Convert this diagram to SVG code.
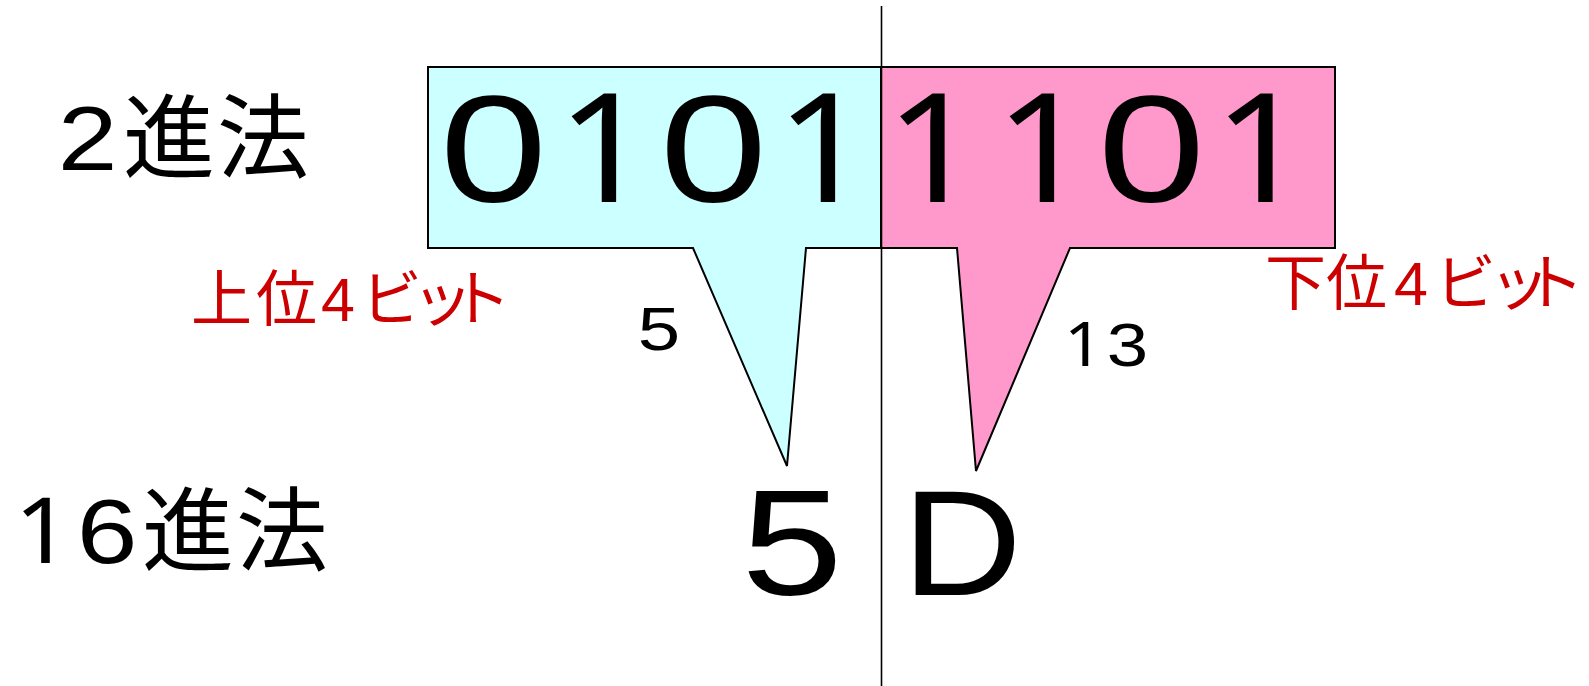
<svg xmlns="http://www.w3.org/2000/svg" width="1589" height="686" viewBox="0 0 1589 686">
<style>
.box{stroke:#000;stroke-width:2;stroke-linejoin:miter}
.upper{fill:#CCFFFF}
.lower{fill:#FF99CC}
.t{font-family:"Liberation Sans","Noto Sans CJK JP",sans-serif;fill:#000}
.one{font-family:"Noto Sans","Liberation Sans",sans-serif;fill:#000}
.big{font-size:152px}
.hex{font-size:151px}
.small{font-size:62px}
.head{font-size:91px}
.kanji{font-family:"Noto Sans CJK JP",sans-serif;font-size:92px;fill:#000}
.red{font-family:"Liberation Sans","Noto Sans CJK JP",sans-serif;font-size:61px;fill:#CC0000}
</style>
<rect width="1589" height="686" fill="#fff"/>
<g id="upper-callout">
<polygon class="box upper" points="428,67 881,67 881,248 806,248 787,466 693,248 428,248"/>
<text class="t big" text-anchor="middle" transform="translate(493.5,202) scale(1.27,1)">0</text>
<text class="one big" text-anchor="middle" transform="translate(604.5,202) scale(1.1,1)">1</text>
<text class="t big" text-anchor="middle" transform="translate(713.5,202) scale(1.27,1)">0</text>
<text class="one big" text-anchor="middle" transform="translate(823.5,202) scale(1.1,1)">1</text>
</g>
<g id="lower-callout">
<polygon class="box lower" points="881,67 1335,67 1335,248 1070,248 976,471 957,248 881,248"/>
<text class="one big" text-anchor="middle" transform="translate(933,202) scale(1.1,1)">1</text>
<text class="one big" text-anchor="middle" transform="translate(1042.5,202) scale(1.1,1)">1</text>
<text class="t big" text-anchor="middle" transform="translate(1151.5,202) scale(1.27,1)">0</text>
<text class="one big" text-anchor="middle" transform="translate(1261,202) scale(1.1,1)">1</text>
</g>
<g id="divider">
<line x1="881.5" y1="6" x2="881.5" y2="686" stroke="#000" stroke-width="1.6"/>
</g>
<g id="connectors"></g>
<g id="binary-label">
<text class="t head" text-anchor="middle" transform="translate(87.5,170) scale(1.18,1)">2</text>
<text class="kanji" x="123 217" y="171">進法</text>
</g>
<g id="hex-label">
<text class="one head" text-anchor="middle" transform="translate(43,563) scale(1.1,1)">1</text>
<text class="t head" text-anchor="middle" transform="translate(107,563) scale(1.2,1)">6</text>
<text class="kanji" x="142 236" y="564">進法</text>
</g>
<g id="upper-label">
<text class="red" x="191 256 321 361 412 450" y="321">上位4ビット</text>
</g>
<g id="lower-label">
<text class="red" x="1265 1326 1394 1435 1489 1523" y="305">下位4ビット</text>
</g>
<g id="value-5">
<text class="t" font-size="61" text-anchor="middle" transform="translate(659,350) scale(1.25,1)">5</text>
</g>
<g id="value-13">
<text class="one small" text-anchor="middle" transform="translate(1083.5,366) scale(1.1,1)">1</text>
<text class="t small" text-anchor="middle" transform="translate(1127.5,366) scale(1.2,1)">3</text>
</g>
<g id="hex-5">
<text class="t hex" text-anchor="middle" transform="translate(792,595) scale(1.21,1)">5</text>
</g>
<g id="hex-D">
<text class="t hex" text-anchor="middle" transform="translate(962,595) scale(1.1,1)">D</text>
</g>
</svg>
